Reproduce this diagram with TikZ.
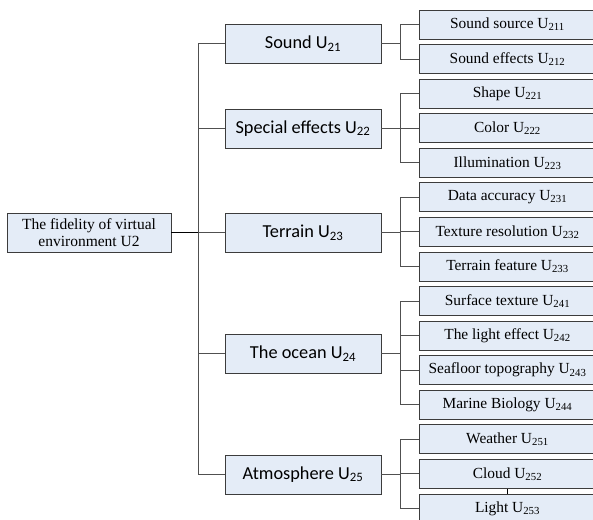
\documentclass[tikz,border=0pt]{standalone}
\usepackage{fontspec}
\setmainfont{Liberation Serif}
\newfontfamily\calfont{Carlito}

\begin{document}
\begin{tikzpicture}[x=1pt,y=-1pt]

	% ============================================================
	% COLORS
	% ============================================================
	\definecolor{boxFill}{HTML}{E4ECF7}
	\definecolor{boxStroke}{HTML}{3C3C3C}
	\definecolor{linkGray}{HTML}{505050}

	% ============================================================
	% STYLES
	% ============================================================
	\tikzset{
		box/.style={
			draw=boxStroke,
			fill=boxFill,
			line width=0.9pt,
			inner sep=0pt,
			align=center
		},
	rootBox/.style={box, minimum width=164pt, minimum height=39pt, font=\fontsize{15.5}{17}\selectfont},
	mainBox/.style={box, minimum width=156pt, minimum height=39pt, font=\calfont\fontsize{18.3}{20}\selectfont},
	leafBox/.style={box, minimum width=177pt, minimum height=29pt, font=\fontsize{15.4}{17}\selectfont},
	link/.style={draw=linkGray, line width=1pt},
	rootLink/.style={draw=black, line width=1.5pt}
	}

	\useasboundingbox (0,0) rectangle (593,519);

	% ============================================================
	% LEVEL 1 - ROOT
	% ============================================================
	\node[rootBox] (u2) at (89, 232.5) {The fidelity of virtual\\environment U2};

	% ============================================================
	% LEVEL 2 - CRITERIA (x=303)
	% ============================================================
	\node[mainBox] (u21) at (303, 43.5)  {Sound U\textsubscript{21}};
	\node[mainBox] (u22) at (303, 128.5) {Special effects U\textsubscript{22}};
	\node[mainBox] (u23) at (303, 232.5) {Terrain U\textsubscript{23}};
	\node[mainBox] (u24) at (303, 353.5) {The ocean U\textsubscript{24}};
	\node[mainBox] (u25) at (303, 474.5) {Atmosphere U\textsubscript{25}};

	% ============================================================
	% LEVEL 3 - INDICATORS (x=507.5, pitch 34.57)
	% ============================================================
	\node[leafBox] (u211) at (507.5, 24.5)  {Sound source U\textsubscript{211}};
	\node[leafBox] (u212) at (507.5, 59.1)  {Sound effects U\textsubscript{212}};

	\node[leafBox] (u221) at (507.5, 93.6)  {Shape U\textsubscript{221}};
	\node[leafBox] (u222) at (507.5, 128.2) {Color U\textsubscript{222}};
	\node[leafBox] (u223) at (507.5, 162.8) {Illumination U\textsubscript{223}};

	\node[leafBox] (u231) at (507.5, 197.4) {Data accuracy U\textsubscript{231}};
	\node[leafBox] (u232) at (507.5, 231.9) {Texture resolution U\textsubscript{232}};
	\node[leafBox] (u233) at (507.5, 266.5) {Terrain feature U\textsubscript{233}};

	\node[leafBox] (u241) at (507.5, 301.1) {Surface texture U\textsubscript{241}};
	\node[leafBox] (u242) at (507.5, 335.6) {The light effect U\textsubscript{242}};
	\node[leafBox] (u243) at (507.5, 370.2) {Seafloor topography U\textsubscript{243}};
	\node[leafBox] (u244) at (507.5, 404.8) {Marine Biology U\textsubscript{244}};

	\node[leafBox] (u251) at (507.5, 439.3) {Weather U\textsubscript{251}};
	\node[leafBox] (u252) at (507.5, 473.9) {Cloud U\textsubscript{252}};
	\node[leafBox] (u253) at (507.5, 508.5) {Light U\textsubscript{253}};

	% ============================================================
	% CONNECTORS - ROOT TO CRITERIA
	% ============================================================
	\draw[link] (u2.east) -- ++(27,0) |- (u21.west);
	\draw[link] (u2.east) -- ++(27,0) |- (u22.west);
	\draw[link] (u2.east) -- ++(27,0) |- (u23.west);
	\draw[link] (u2.east) -- ++(27,0) |- (u24.west);
	\draw[link] (u2.east) -- ++(27,0) |- (u25.west);
	\draw[rootLink] (u2.east) -- ++(27,0);

	% ============================================================
	% CONNECTORS - CRITERIA TO INDICATORS
	% ============================================================
	\draw[link] (u21.east) -- ++(19,0) |- (u211.west);
	\draw[link] (u21.east) -- ++(19,0) |- (u212.west);

	\draw[link] (u22.east) -- ++(19,0) |- (u221.west);
	\draw[link] (u22.east) -- ++(19,0) |- (u222.west);
	\draw[link] (u22.east) -- ++(19,0) |- (u223.west);

	\draw[link] (u23.east) -- ++(19,0) |- (u231.west);
	\draw[link] (u23.east) -- ++(19,0) |- (u232.west);
	\draw[link] (u23.east) -- ++(19,0) |- (u233.west);

	\draw[link] (u24.east) -- ++(19,0) |- (u241.west);
	\draw[link] (u24.east) -- ++(19,0) |- (u242.west);
	\draw[link] (u24.east) -- ++(19,0) |- (u243.west);
	\draw[link] (u24.east) -- ++(19,0) |- (u244.west);

	\draw[link] (u25.east) -- ++(19,0) |- (u251.west);
	\draw[link] (u25.east) -- ++(19,0) |- (u252.west);
	\draw[link] (u25.east) -- ++(19,0) |- (u253.west);

	% stray tick between Cloud and Light
	\draw[link, draw=black] (u252.south) -- (u253.north);

\end{tikzpicture}
\end{document}
